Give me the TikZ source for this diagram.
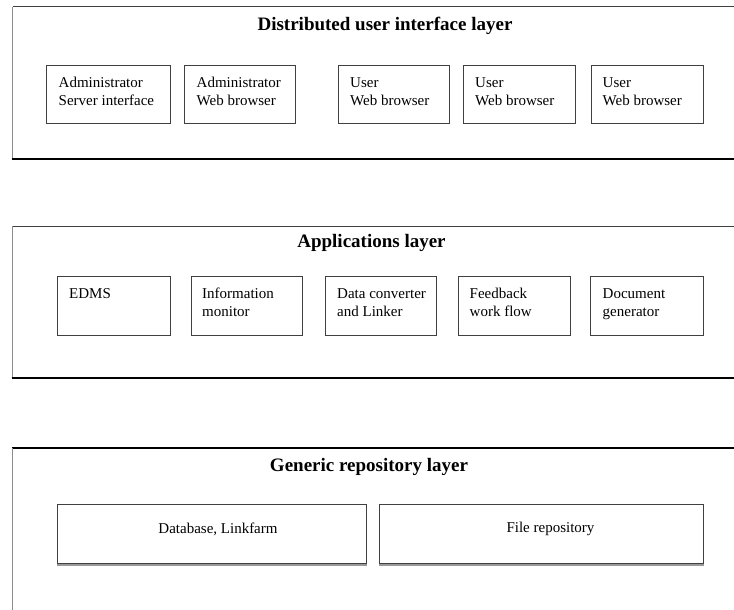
\documentclass[tikz,border=0pt]{standalone}
\usepackage{fontspec}
\setmainfont{Liberation Serif}
\begin{document}
\begin{tikzpicture}[x=1pt,y=-1pt,
  ibox/.style={draw=black!75, line width=0.9pt, anchor=north west, inner sep=0pt, minimum height=#1},
  itext/.style={anchor=north west, inner sep=0pt, align=left, font=\fontsize{15}{18}\selectfont},
  ctext/.style={inner sep=0pt, font=\fontsize{15}{18}\selectfont},
  ttl/.style={inner sep=0pt, font=\fontsize{19}{23}\selectfont\bfseries},
  topline/.style={draw=black!75, line width=1pt},
  leftline/.style={draw=black!45, line width=1.6pt},
  thick edge/.style={draw=black, line width=2.6pt},
  shade/.style={draw=black!40, line width=1.6pt}
]
\clip (0,0) rectangle (734,610);
\fill[white] (0,0) rectangle (734,610);

% ---------- Layer 1 ----------
\draw[topline] (12.5,7) -- (740,7);
\draw[leftline] (12.5,7) -- (12.5,159);
\draw[thick edge] (11.5,159) -- (740,159);
\node[ttl] (t1) at (385,26) {Distributed user interface layer};

\node[ibox=58pt, minimum width=124pt] (a1) at (45.5,65) {};
\node[ibox=58pt, minimum width=111pt] (a2) at (184,65) {};
\node[ibox=58pt, minimum width=111pt] (a3) at (338,65) {};
\node[ibox=58pt, minimum width=112pt] (a4) at (462.5,65) {};
\node[ibox=58pt, minimum width=112pt] (a5) at (591,65) {};
\node[itext] (ta1) at (58.5,77) {Administrator\\Server interface};
\node[itext] (ta2) at (196.5,77) {Administrator\\Web browser};
\node[itext] (ta3) at (350,77) {User\\Web browser};
\node[itext] (ta4) at (475,77) {User\\Web browser};
\node[itext] (ta5) at (602.5,77) {User\\Web browser};

% ---------- Layer 2 ----------
\draw[topline] (12.5,226) -- (740,226);
\draw[leftline] (12.5,226) -- (12.5,378);
\draw[thick edge] (11.5,378) -- (740,378);
\node[ttl] (t2) at (371.5,243) {Applications layer};

\node[ibox=59pt, minimum width=112.5pt] (b1) at (57,276) {};
\node[ibox=59pt, minimum width=111pt] (b2) at (191,276) {};
\node[ibox=59pt, minimum width=111pt] (b3) at (324.5,276) {};
\node[ibox=59pt, minimum width=112pt] (b4) at (457.5,276) {};
\node[ibox=59pt, minimum width=113pt] (b5) at (590,276) {};
\node[itext] (tb1) at (69,288) {EDMS};
\node[itext] (tb2) at (202,288) {Information\\monitor};
\node[itext] (tb3) at (337,288) {Data converter\\and Linker};
\node[itext] (tb4) at (469.5,288) {Feedback\\work flow};
\node[itext] (tb5) at (602.5,288) {Document\\generator};

% ---------- Layer 3 ----------
\draw[thick edge] (11.5,448) -- (740,448);
\draw[leftline] (12.5,448) -- (12.5,615);
\node[ttl] (t3) at (369,467) {Generic repository layer};

\node[ibox=59pt, minimum width=309pt] (c1) at (57,504) {};
\node[ibox=59pt, minimum width=324pt] (c2) at (379,504) {};
\draw[shade] ([yshift=-1pt]c1.south west) -- ([yshift=-1pt]c1.south east);
\draw[shade] ([yshift=-1pt]c2.south west) -- ([yshift=-1pt]c2.south east);
\node[ctext] (tc1) at (218,529) {Database, Linkfarm};
\node[ctext] (tc2) at (550.5,529) {File repository};
\end{tikzpicture}
\end{document}
